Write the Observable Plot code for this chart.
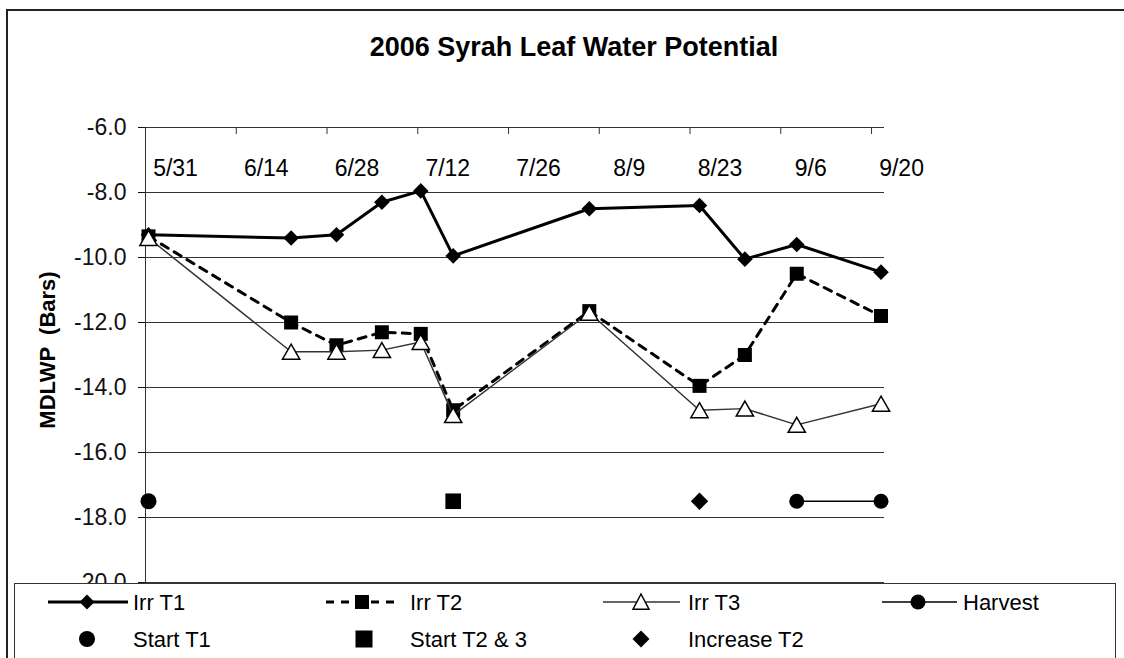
<!DOCTYPE html>
<html>
<head>
<meta charset="utf-8">
<script src="https://cdn.jsdelivr.net/npm/d3@7"></script>
<script src="https://cdn.jsdelivr.net/npm/@observablehq/plot@0.6"></script>
<style>
  body { margin: 0; background: #fff; font-family: "Liberation Sans", Arial, sans-serif; }
  #wrap { position: relative; width: 1124px; height: 658px; overflow: hidden; background: #fff; }
  #frame { position: absolute; left: 6px; top: 9px; width: 1200px; height: 700px; border: 2px solid #222; box-sizing: border-box; }
  #title { position: absolute; left: 0; width: 1148px; top: 32px; text-align: center; font-weight: bold; font-size: 27px; line-height: 31px; color: #000; }
  #chart { position: absolute; left: 0; top: 0; }
  #ylabel { position: absolute; left: 48px; top: 350px; transform: translate(-50%, -50%) rotate(-90deg); font-weight: bold; font-size: 22px; white-space: pre; color: #000; }
  #legend { position: absolute; left: 14px; top: 583px; width: 1102px; height: 120px; border: 1.5px solid #333; background: #fff; box-sizing: border-box; }
  #legend svg { position: absolute; left: -1.5px; top: -1.5px; }
</style>
</head>
<body>
<div id="wrap">
  <div id="frame"></div>
  <div id="chart"></div>
  <div id="title">2006 Syrah Leaf Water Potential</div>
  <div id="ylabel">MDLWP  (Bars)</div>
  <div id="legend"></div>
</div>
<script>
// ---- data ----
const dates = ["2006-05-31","2006-06-22","2006-06-29","2006-07-06","2006-07-12","2006-07-17",
               "2006-08-07","2006-08-24","2006-08-31","2006-09-08","2006-09-21"];
const irrT1 = [-9.3, -9.4, -9.3, -8.3, -7.95, -9.95, -8.5, -8.4, -10.05, -9.6, -10.45];
const irrT2 = [-9.35, -12.0, -12.7, -12.3, -12.35, -14.7, -11.65, -13.95, -13.0, -10.5, -11.8];
const irrT3 = [-9.4, -12.9, -12.9, -12.85, -12.6, -14.85, -11.7, -14.7, -14.65, -15.15, -14.5];

const startT1Dates = ["2006-05-31"];
const startT23Dates = ["2006-07-17"];
const increaseT2Dates = ["2006-08-24"];
const harvestDates = ["2006-09-08", "2006-09-21"];
const eventLevel = -17.5;

const xTickDates = ["2006-05-31","2006-06-14","2006-06-28","2006-07-12","2006-07-26",
                    "2006-08-09","2006-08-23","2006-09-06","2006-09-20"];
const xTickLabels = ["5/31","6/14","6/28","7/12","7/26","8/9","8/23","9/6","9/20"];
const yTicks = [-6, -8, -10, -12, -14, -16, -18, -20];
const xDomain = ["2006-05-31", "2006-09-22"];

// ---- build ----
const parse = d3.utcParse("%Y-%m-%d");
const rows = vals => dates.map((d, i) => ({date: parse(d), v: vals[i]}));
const ev = ds => ds.map(d => ({date: parse(d), v: eventLevel}));
const t1 = rows(irrT1), t2 = rows(irrT2), t3 = rows(irrT3);
const xTicks = xTickDates.map(parse);

const font = '"Liberation Sans", Arial, sans-serif';
const DX = 3;

const chart = Plot.plot({
  width: 1124, height: 658,
  marginLeft: 145, marginRight: 240, marginTop: 127, marginBottom: 76,
  style: {fontFamily: font, background: "transparent", overflow: "visible", color: "#000"},
  x: {type: "utc", domain: xDomain.map(parse), axis: null},
  y: {domain: [-20, -6], axis: null},
  marks: [
    Plot.ruleY(yTicks, {stroke: "#333", strokeWidth: 1}),
    Plot.ruleX([parse(xDomain[0])], {stroke: "#333", strokeWidth: 1}),
    Plot.axisY(yTicks, {anchor: "left", tickSize: 7, tickPadding: 12, tickFormat: d => d.toFixed(1),
                        fontSize: 23, color: "#111", label: null}),
    Plot.ruleX(xTicks, {x: d => d, y1: -6, y2: -6, insetBottom: -7, stroke: "#333", strokeWidth: 1}),
    Plot.text(xTicks, {x: d => d, y: -6, text: (d, i) => xTickLabels[i], dx: 30, dy: 41,
                       fontSize: 23, fill: "#000"}),
    // Irr T1
    Plot.line(t1, {x: "date", y: "v", stroke: "#000", strokeWidth: 3, dx: DX}),
    Plot.dot(t1, {x: "date", y: "v", symbol: "diamond2", fill: "#000", r: 7, dx: DX}),
    // Irr T2
    Plot.line(t2, {x: "date", y: "v", stroke: "#000", strokeWidth: 3, strokeDasharray: "8,7", dx: DX}),
    Plot.dot(t2, {x: "date", y: "v", symbol: "square", fill: "#000", r: 7.9, dx: DX}),
    // Irr T3
    Plot.line(t3, {x: "date", y: "v", stroke: "#333", strokeWidth: 1.5, dx: DX}),
    Plot.dot(t3, {x: "date", y: "v", symbol: "triangle", fill: "#fff", stroke: "#000", strokeWidth: 1.5, r: 6.4, dx: DX, dy: 2.4}),
    // events
    Plot.line(ev(harvestDates), {x: "date", y: "v", stroke: "#000", strokeWidth: 1.5, dx: DX}),
    Plot.dot(ev(harvestDates), {x: "date", y: "v", symbol: "circle", fill: "#000", r: 7.5, dx: DX}),
    Plot.dot(ev(startT1Dates), {x: "date", y: "v", symbol: "circle", fill: "#000", r: 8, dx: DX}),
    Plot.dot(ev(startT23Dates), {x: "date", y: "v", symbol: "square", fill: "#000", r: 8.8, dx: DX}),
    Plot.dot(ev(increaseT2Dates), {x: "date", y: "v", symbol: "diamond2", fill: "#000", r: 7.8, dx: DX})
  ]
});
document.getElementById("chart").appendChild(chart);

// ---- legend ----
const legendItems = [
  {label: "Irr T1", row: 0, x0: 48, x1: 128, mx: 87, tx: 133, line: {w: 3}, sym: "diamond", s: 7.5},
  {label: "Irr T2", row: 0, x0: 326, x1: 401, mx: 362, tx: 410, line: {w: 3, dash: "8,7"}, sym: "square", s: 7},
  {label: "Irr T3", row: 0, x0: 603, x1: 680, mx: 641, tx: 688, line: {w: 1.5, c: "#333"}, sym: "triangle", s: 8},
  {label: "Harvest", row: 0, x0: 882, x1: 957, mx: 918, tx: 963, line: {w: 1.5}, sym: "circle", s: 7.5},
  {label: "Start T1", row: 1, mx: 87, tx: 133, sym: "circle", s: 8},
  {label: "Start T2 & 3", row: 1, mx: 364, tx: 410, sym: "square", s: 8.5},
  {label: "Increase T2", row: 1, mx: 641, tx: 688, sym: "diamond", s: 8.5}
];
const rowY = [602, 639];
const LX = 14, LY = 583;
const lsvg = d3.select("#legend").append("svg").attr("width", 1110).attr("height", 120)
  .style("font-family", font);
for (const it of legendItems) {
  const cy = rowY[it.row] - LY;
  if (it.line) {
    lsvg.append("line").attr("x1", it.x0 - LX).attr("x2", it.x1 - LX).attr("y1", cy).attr("y2", cy)
      .attr("stroke", it.line.c || "#000").attr("stroke-width", it.line.w)
      .attr("stroke-dasharray", it.line.dash || null);
  }
  const mx = it.mx - LX, s = it.s;
  if (it.sym === "diamond") {
    lsvg.append("path").attr("d", `M${mx},${cy - s}L${mx + s},${cy}L${mx},${cy + s}L${mx - s},${cy}Z`).attr("fill", "#000");
  } else if (it.sym === "square") {
    lsvg.append("rect").attr("x", mx - s).attr("y", cy - s).attr("width", 2 * s).attr("height", 2 * s).attr("fill", "#000");
  } else if (it.sym === "circle") {
    lsvg.append("circle").attr("cx", mx).attr("cy", cy).attr("r", s).attr("fill", "#000");
  } else if (it.sym === "triangle") {
    lsvg.append("path").attr("d", `M${mx},${cy - s}L${mx + s},${cy + s * 0.9}L${mx - s},${cy + s * 0.9}Z`)
      .attr("fill", "#fff").attr("stroke", "#000").attr("stroke-width", 1.5);
  }
  lsvg.append("text").attr("x", it.tx - LX).attr("y", cy + 8).attr("font-size", 22).attr("fill", "#000").text(it.label);
}
</script>
</body>
</html>
